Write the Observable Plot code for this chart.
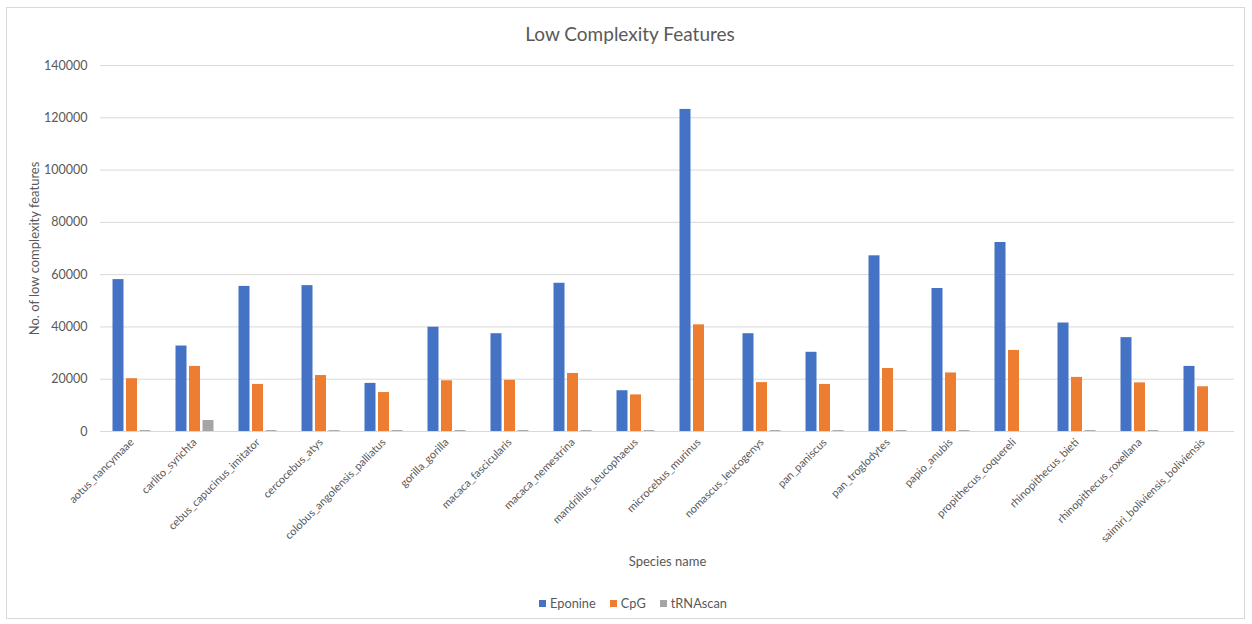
<!DOCTYPE html>
<html>
<head>
<meta charset="utf-8">
<script src="https://cdn.jsdelivr.net/npm/d3@7"></script>
<script src="https://cdn.jsdelivr.net/npm/@observablehq/plot@0.6"></script>
<style>
  html, body { margin: 0; padding: 0; background: #fff; }
  #wrap { position: relative; width: 1252px; height: 624px; font-family: Lato, "Open Sans", sans-serif; color: #595959; overflow: hidden; }
  #frame { position: absolute; left: 6px; top: 7px; width: 1239px; height: 612px; border: 1px solid #d9d9d9; box-sizing: border-box; }
  #title { position: absolute; left: 10px; width: 1240px; top: 22px; text-align: center; font-size: 19px; line-height: 24px; }
  #chart { position: absolute; left: 0; top: 0; }
  #legend { position: absolute; left: 0; width: 1266px; top: 595px; text-align: center; font-size: 12.8px; line-height: 16px; }
  #legend span.item { margin: 0 7px; white-space: nowrap; }
  #legend span.sw { display: inline-block; width: 7px; height: 7px; margin-right: 4px; vertical-align: 1px; }
</style>
</head>
<body>
<div id="wrap">
  <div id="frame"></div>
  <div id="title">Low Complexity Features</div>
  <div id="chart"></div>
  <div id="legend"></div>
</div>
<script>
const species = ["aotus_nancymaae","carlito_syrichta","cebus_capucinus_imitator","cercocebus_atys","colobus_angolensis_palliatus","gorilla_gorilla","macaca_fascicularis","macaca_nemestrina","mandrillus_leucophaeus","microcebus_murinus","nomascus_leucogenys","pan_paniscus","pan_troglodytes","papio_anubis","propithecus_coquereli","rhinopithecus_bieti","rhinopithecus_roxellana","saimiri_boliviensis_boliviensis"];
const seriesNames = ["Eponine", "CpG", "tRNAscan"];
const seriesColors = ["#4472c4", "#ed7d31", "#a5a5a5"];
const eponine = [58100, 32700, 55500, 55800, 18400, 39900, 37400, 56700, 15600, 123200, 37400, 30300, 67200, 54700, 72300, 41500, 35900, 24900];
const cpg = [20200, 24900, 18000, 21400, 14900, 19400, 19600, 22200, 14000, 40800, 18700, 18000, 24100, 22400, 31000, 20700, 18600, 17100];
const trnascan = [350, 4200, 350, 350, 350, 350, 350, 350, 350, 0, 350, 350, 350, 350, 0, 350, 350, 0];
const yTicks = [0, 20000, 40000, 60000, 80000, 100000, 120000, 140000];

const seriesValues = [eponine, cpg, trnascan];
const rows = [];
species.forEach((s, i) => {
  seriesNames.forEach((n, j) => rows.push({species: s, series: n, value: seriesValues[j][i]}));
});

const plot = Plot.plot({
  width: 1252,
  height: 585,
  marginTop: 65,
  marginLeft: 100,
  marginRight: 18,
  marginBottom: 154,
  style: {fontFamily: "Lato, 'Open Sans', sans-serif", color: "#595959", background: "transparent"},
  fx: {domain: species, paddingInner: 0, paddingOuter: 0, round: false},
  x: {domain: seriesNames, paddingInner: 0.185, paddingOuter: 0.926, round: false, axis: null},
  y: {domain: [0, 140000], axis: null},
  color: {domain: seriesNames, range: seriesColors},
  marks: [
    Plot.gridY(yTicks, {stroke: "#d9d9d9", strokeOpacity: 1, strokeWidth: 1}),
    Plot.axisY({ticks: yTicks, tickSize: 0, tickPadding: 13, fontSize: 12.5, tickFormat: d => String(d),
      label: "No. of low complexity features", labelAnchor: "center", labelOffset: 71, labelArrow: "none"}),
    Plot.barY(rows, {fx: "species", x: "series", y: "value", fill: "series"}),
    Plot.axisFx({anchor: "bottom", tickRotate: -45, tickSize: 0, tickPadding: 9, fontSize: 11,
      label: "Species name", labelAnchor: "center", labelOffset: 134, labelArrow: "none"})
  ]
});
plot.querySelectorAll("g[aria-label='fx-axis label'] text, g[aria-label='y-axis label'] text").forEach(t => t.style.fontSize = "13px");
document.getElementById("chart").appendChild(plot);

const legend = document.getElementById("legend");
seriesNames.forEach((n, j) => {
  const item = document.createElement("span");
  item.className = "item";
  const sw = document.createElement("span");
  sw.className = "sw";
  sw.style.background = seriesColors[j];
  item.appendChild(sw);
  item.appendChild(document.createTextNode(n));
  legend.appendChild(item);
});
</script>
</body>
</html>
